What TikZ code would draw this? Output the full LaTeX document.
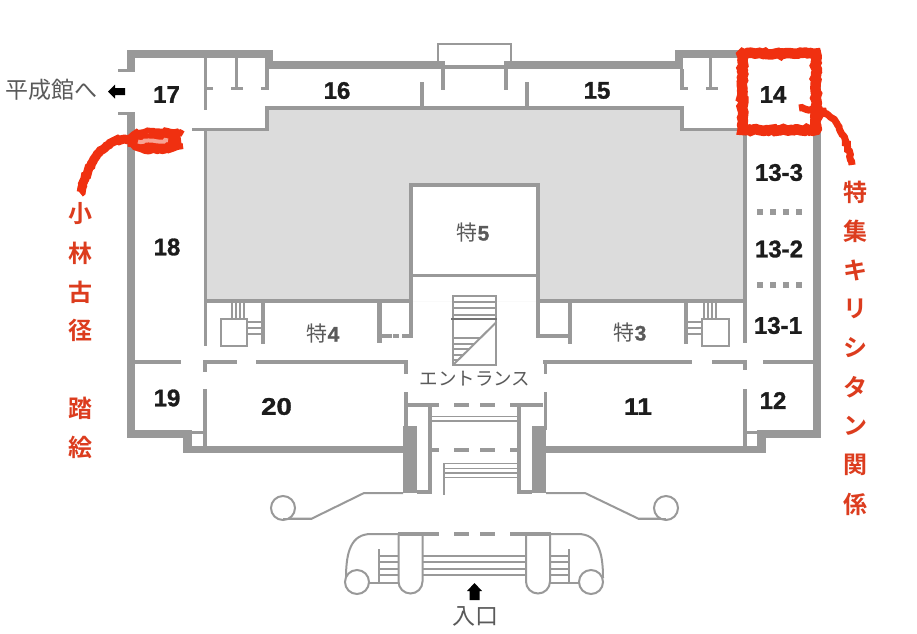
\documentclass[tikz,border=0pt]{standalone}
\usepackage{fontspec}
\setmainfont{Liberation Sans}[BoldFeatures={FakeBold=1.2}]
\newfontfamily\jpfont{Noto Sans CJK JP}[BoldFont={Noto Sans CJK JP Bold}]
\usetikzlibrary{decorations.pathmorphing}
\definecolor{wall}{HTML}{999999}
\definecolor{hall}{HTML}{DCDCDC}
\definecolor{redink}{HTML}{F03010}
\definecolor{redtext}{HTML}{DC3C1E}
\definecolor{numink}{HTML}{1C1C1C}
\definecolor{jpink}{HTML}{5A5A5A}
\tikzset{
  w/.style={fill=wall,draw=none},
  fine/.style={draw=wall,line width=2pt},
  hair/.style={draw=wall,line width=1.6pt},
  room/.style={font=\fontsize{24}{24}\selectfont\bfseries,text=numink,inner sep=0pt},
  jp/.style={font=\jpfont\fontsize{23}{23}\selectfont,text=jpink,inner sep=0pt},
  redlab/.style={font=\jpfont\fontsize{24}{24}\selectfont\bfseries,text=redtext,inner sep=0pt},
  scrawl/.style={draw=redink,line cap=butt,line join=miter,
     decorate,decoration={random steps,segment length=2.5pt,amplitude=1pt}},
  tokusetsu/.style={inner sep=0pt,text=jpink},
}
\newcommand{\wrect}[4]{\fill[w] (#1,#2) rectangle (#3,#4);}
\newcommand{\toku}[1]{{\jpfont\fontsize{21}{21}\selectfont 特}{\fontsize{21}{21}\selectfont\bfseries #1}}
\begin{document}
\begin{tikzpicture}[x=1pt,y=-1pt]
\useasboundingbox (0,0) rectangle (917,633);
\fill[white] (0,0) rectangle (917,633);
% hall
\fill[hall] (207,131) -- (267,131) -- (267,108) -- (682,108) -- (682,131) -- (745,131) -- (745,301) -- (207,301) -- cycle;
\fill[white] (411,185) rectangle (538,301);
% outer walls
\wrect{127}{50}{135}{70}
\wrect{127}{113}{135}{438}
\wrect{127}{50}{273}{58}
\wrect{265}{50}{273}{69}
\wrect{265}{61}{445}{69}
\wrect{445}{65}{504}{69}
\wrect{504}{61}{683}{69}
\wrect{675}{50}{683}{69}
\wrect{675}{50}{821}{58}
\wrect{813}{50}{821}{438}
\wrect{118}{69}{135}{72}
\wrect{118}{112}{135}{115}
\wrect{127}{430}{192}{438}
\wrect{183}{430}{192}{453}
\wrect{183}{446}{403}{453}
\wrect{546}{446}{766}{453}
\wrect{757}{430}{766}{453}
\wrect{757}{430}{821}{438}
\wrect{192}{431}{207}{434}
\wrect{743}{431}{757}{434}
% roof box
\draw[fine] (438,61) -- (438,44) -- (511,44) -- (511,61);
% top-left partitions
\wrect{204}{58}{207}{110}
\wrect{207}{87}{213}{90}
\wrect{234.5}{58}{238}{88}
\wrect{231}{87}{243}{90}
\wrect{265}{69}{269}{88}
\wrect{261}{87}{269}{90}
\wrect{192}{127.5}{269}{131}
\wrect{265}{106}{269}{131}
\wrect{265}{106}{684}{110}
\wrect{680}{106}{684}{131}
\wrect{680}{127.5}{745}{131}
% stubs of gallery
\wrect{441}{69}{445}{90}
\wrect{504}{69}{508}{90}
\wrect{420}{82}{423.5}{108}
\wrect{525}{82}{528.5}{108}
% top-right partitions
\wrect{680}{69}{684}{88}
\wrect{680}{87}{688}{90}
\wrect{709}{58}{712}{88}
\wrect{706}{87}{718}{90}
% long inner walls
\wrect{204}{131}{207}{346}
\wrect{743}{131}{747}{343}
\wrect{207}{299}{410}{303}
\wrect{540}{299}{743}{303}
% special room 5
\wrect{409}{183}{540}{187}
\wrect{409}{183}{413}{337}
\wrect{536}{183}{540}{337}
\wrect{409}{274}{540}{277}
% special 4 side
\wrect{261}{303}{265}{344}
\wrect{377}{303}{382}{343}
\wrect{382}{333.5}{392}{337.5}
\wrect{393}{333.5}{399}{337.5}
\wrect{402}{333.5}{413}{337.5}
% special 3 side
\wrect{536}{334}{572}{338}
\wrect{568}{303}{572}{344}
\wrect{684}{303}{688}{344}
% elevators
\draw[fine] (220.5,319) rectangle (247,346);
\draw[fine] (702,319) rectangle (729,346);
\foreach \x in {232,236,240,244} \draw[hair] (\x,303) -- (\x,319);
\foreach \x in {704,708,712,716} \draw[hair] (\x,303) -- (\x,319);
\foreach \y in {322,328,334} {
  \draw[hair] (247,\y) -- (261,\y);
  \draw[hair] (688,\y) -- (702,\y);
}
% corridor line left
\wrect{135}{359.5}{181}{363.5}
\wrect{203}{359.5}{237}{363.5}
\wrect{256}{359.5}{408}{363.5}
\wrect{203}{359.5}{207}{372}
\wrect{203}{389}{207}{447}
\wrect{404}{359.5}{408}{374}
\wrect{404}{392}{408}{430}
% corridor line right
\wrect{543}{359.5}{692}{363.5}
\wrect{712}{359.5}{746}{363.5}
\wrect{763}{359.5}{813}{363.5}
\wrect{543.5}{359.5}{547}{374}
\wrect{543.5}{392}{547}{430}
\wrect{742.5}{359.5}{746.5}{370}
\wrect{743}{389}{747}{447}
% piers
\wrect{403}{426}{417}{493}
\wrect{532}{426}{546}{493}
% porch
\wrect{408}{403}{439}{407}
\wrect{454}{403}{469}{407}
\wrect{480}{403}{495}{407}
\wrect{510}{403}{543}{407}
\wrect{428}{407}{432}{493}
\wrect{517}{407}{520.5}{493}
\wrect{417}{490}{432}{494}
\wrect{517}{490}{532}{494}
\wrect{428}{448}{439}{452}
\wrect{454}{448}{469}{452}
\wrect{480}{448}{495}{452}
\wrect{510}{448}{520}{452}
\foreach \y in {416.5,421} \draw[hair] (432,\y) -- (517,\y);
\foreach \y in {463.5,468.5,473,477.5} \draw[hair] (443,\y) -- (517,\y);
\draw[fine] (444,463) -- (444,495);
% central stairs
\draw[fine] (452.5,295.5) rectangle (496,365);
\foreach \y in {302,308,315} \draw[hair] (453,\y) -- (496,\y);
\draw[draw=wall!75!black,line width=2.6pt] (451,319) -- (496.5,319);
\draw[fine] (496.5,322) -- (453,365);
\foreach \y/\xx in {338/480,344/474,349/469,355/463,360/458} \draw[hair] (453,\y) -- (\xx,\y);
% left driveway
\draw[fine] (283,518.5) -- (312,518.5) -- (364,493) -- (403,493);
\draw[fine,fill=white] (283,508) circle (12);
\draw[fine] (283,519) -- (312,519);
% right driveway
\draw[fine] (666,518.5) -- (638,518.5) -- (585,493) -- (546,493);
\draw[fine,fill=white] (666,508) circle (12);
\draw[fine] (666,519) -- (638,519);
% entrance canopy
\draw[fine] (346,578) .. controls (346,552) and (351,534) .. (371,534) -- (398,534);
\draw[fine] (603,578) .. controls (603,552) and (598,534) .. (578,534) -- (551,534);
\foreach \y in {556,562,569,575} {
  \draw[fine] (423,\y) -- (526,\y);
  \draw[fine] (379,\y) -- (398,\y);
  \draw[fine] (550,\y) -- (569,\y);
}
\draw[fine] (379,549) -- (379,583);
\draw[fine] (569,549) -- (569,583);
\draw[fine] (368,583) -- (398,583);
\draw[fine] (550,583) -- (580,583);
\draw[fine] (398.5,534) -- (398.5,581.5) arc[start angle=180,end angle=0,radius=12] -- (422.5,534);
\draw[fine] (526,534) -- (526,581.5) arc[start angle=180,end angle=0,radius=12] -- (550,534);
\draw[fine,fill=white] (357,582) circle (12);
\draw[fine,fill=white] (591,582) circle (12);
\wrect{398}{531.5}{439}{535.5}
\wrect{454}{531.5}{469}{535.5}
\wrect{480}{531.5}{495}{535.5}
\wrect{510}{531.5}{551}{535.5}
% dotted dividers
\foreach \x in {760,773,786,799} {
  \wrect{\x-3}{209}{\x+3}{215}
  \wrect{\x-3}{282}{\x+3}{288}
}
% arrows
\fill[black] (108,91.5) -- (115,84.5) -- (115,88) -- (125,88) -- (125,95) -- (115,95) -- (115,98.5) -- cycle;
\fill[black] (474.5,583) -- (482,591) -- (479.5,591) -- (479.5,600) -- (469.5,600) -- (469.5,591) -- (467,591) -- cycle;
% room numbers
\node[room] (r17) at (166.5,94.5) {17};
\node[room] (r16) at (337,90.5) {16};
\node[room] (r15) at (597,90.5) {15};
\node[room] (r14) at (773,94.5) {14};
\node[room] (r133) at (779,172.5) {13-3};
\node[room] (r132) at (779,249) {13-2};
\node[room] (r131) at (778,325.5) {13-1};
\node[room] (r18) at (167,247) {18};
\node[room] (r19) at (167,398) {19};
\node[room,xscale=1.15] (r20) at (276.5,406.5) {20};
\node[room,xscale=1.1] (r11) at (638,406.5) {11};
\node[room] (r12) at (773,400.5) {12};
% special rooms
\node[tokusetsu] (t5) at (473,232.5) {\toku{5}};
\node[tokusetsu] (t4) at (323,333.5) {\toku{4}};
\node[tokusetsu] (t3) at (630,332.5) {\toku{3}};
% Japanese labels
\node[jp] (heisei) at (51.5,90) {平成館へ};
\node[jp,font=\jpfont\fontsize{18.5}{18.5}\selectfont] (ent) at (475,379) {エントランス};
\node[jp] (iri) at (475,616) {入口};
% red scrawls
\draw[scrawl,line width=10.5pt] (742.5,53.5) -- (816,53.5) -- (816,130) -- (742.5,130) -- cycle;
\draw[scrawl,line width=7pt] (799,108) -- (815,110) .. controls (835,112) and (846,135) .. (852,165);
\fill[redink] (131,134) -- (180,132) -- (182,148) -- (150,153) -- (131,148) -- cycle;
\draw[scrawl,line width=6pt] (183,134) .. controls (165,129) and (140,130) .. (133,135) .. controls (126,142) and (136,151) .. (150,151) .. controls (162,151) and (172,150) .. (183,146);
\draw[scrawl,draw=redink!45!white,line width=4pt] (138,141.5) -- (168,140.5);
\draw[scrawl,line width=9pt] (130,139) .. controls (108,139) and (94,150) .. (80,193);
% red text
\node[redlab] (a1) at (80,214) {小};
\node[redlab] (a2) at (80,253) {林};
\node[redlab] (a3) at (80,292) {古};
\node[redlab] (a4) at (80,330) {径};
\node[redlab] (a5) at (80,408) {踏};
\node[redlab] (a6) at (80,447) {絵};
\node[redlab] (b1) at (855,192) {特};
\node[redlab] (b2) at (855,231) {集};
\node[redlab] (b3) at (855,270) {キ};
\node[redlab] (b4) at (855,309) {リ};
\node[redlab] (b5) at (855,348) {シ};
\node[redlab] (b6) at (855,387) {タ};
\node[redlab] (b7) at (855,426) {ン};
\node[redlab] (b8) at (855,465) {関};
\node[redlab] (b9) at (855,504) {係};
\end{tikzpicture}
\end{document}
